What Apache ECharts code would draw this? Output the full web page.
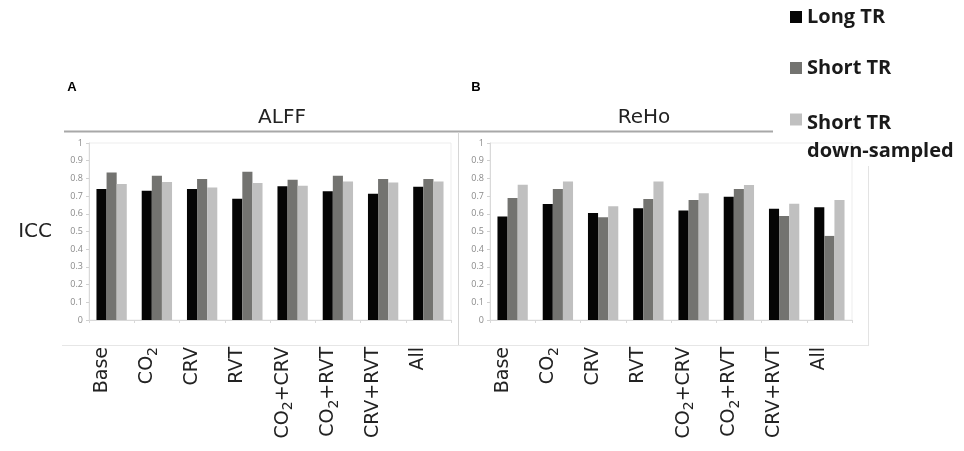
<!DOCTYPE html>
<html><head><meta charset="utf-8">
<script src="https://cdn.jsdelivr.net/npm/echarts@6/dist/echarts.min.js"></script>
<style>html,body{margin:0;padding:0;background:#fff}#c{width:964px;height:451px}</style>
</head><body><div id="c"></div>
<script>
const categories = ['Base', 'CO2', 'CRV', 'RVT', 'CO2+CRV', 'CO2+RVT', 'CRV+RVT', 'All'];
const seriesNames = ['Long TR', 'Short TR', 'Short TR down-sampled'];
const yTicks = [0, 0.1, 0.2, 0.3, 0.4, 0.5, 0.6, 0.7, 0.8, 0.9, 1];
// Panel A: ALFF
const alffLong  = [0.740, 0.730, 0.740, 0.685, 0.755, 0.728, 0.713, 0.753];
const alffShort = [0.834, 0.815, 0.796, 0.838, 0.792, 0.815, 0.796, 0.796];
const alffDown  = [0.768, 0.779, 0.749, 0.774, 0.758, 0.783, 0.777, 0.783];
// Panel B: ReHo
const rehoLong  = [0.585, 0.655, 0.604, 0.632, 0.619, 0.697, 0.629, 0.637];
const rehoShort = [0.689, 0.740, 0.581, 0.683, 0.678, 0.740, 0.588, 0.475];
const rehoDown  = [0.764, 0.783, 0.642, 0.783, 0.716, 0.763, 0.657, 0.678];

const FONT = 'DejaVu Sans';
const LFONT = 'Open Sans';
const colors = ['#050505', '#737370', '#c0c0c0'];
const chart = echarts.init(document.getElementById('c'));

function catLabel(v) { return v.replace(/CO2/g, 'CO{sub|2}'); }
const xAxisCommon = {
  type: 'category', data: categories,
  axisLine: { show: true, lineStyle: { color: '#d9d9d9' } },
  axisTick: { show: true, length: 3, lineStyle: { color: '#d9d9d9' } },
  axisLabel: {
    interval: 0, rotate: 90, margin: 27, fontFamily: FONT, fontSize: 19, color: '#222',
    lineHeight: 26, padding: [0, 0, 20, 0], formatter: catLabel,
    rich: { sub: { fontFamily: FONT, fontSize: 14, lineHeight: 12, verticalAlign: 'bottom', color: '#222' } }
  }
};
const yAxisCommon = {
  type: 'value', min: yTicks[0], max: yTicks[yTicks.length - 1], interval: 0.1,
  axisLine: { show: true, lineStyle: { color: '#d9d9d9' } },
  axisTick: { show: true, length: 3, lineStyle: { color: '#d0d0d0' } },
  splitLine: { show: false },
  axisLabel: { fontFamily: LFONT, fontSize: 9, color: '#8a8a8a', margin: 6 }
};
function bar(name, data, idx, color) {
  return { type: 'bar', name: name, data: data, xAxisIndex: idx, yAxisIndex: idx,
    barGap: '0%', barCategoryGap: '33%', itemStyle: { color: color }, silent: true };
}
const legendText = { fontFamily: LFONT, fontWeight: 'bold', fontSize: 20, color: '#1a1a1a', lineHeight: 28 };
const lineColor = '#d6d6d6';
chart.setOption({
  animation: false,
  grid: [
    { left: 89, top: 143, width: 362, height: 177, show: true, borderColor: '#ededed', borderWidth: 1 },
    { left: 490, top: 143, width: 362, height: 177, show: true, borderColor: '#ededed', borderWidth: 1 }
  ],
  xAxis: [ Object.assign({ gridIndex: 0 }, xAxisCommon), Object.assign({ gridIndex: 1 }, xAxisCommon) ],
  yAxis: [
    Object.assign({ gridIndex: 0, name: 'ICC', nameLocation: 'middle', nameRotate: 0, nameGap: 37,
      nameTextStyle: { fontFamily: FONT, fontSize: 20, color: '#222', align: 'right' } }, yAxisCommon),
    Object.assign({ gridIndex: 1 }, yAxisCommon)
  ],
  legend: [
    {
      orient: 'vertical', left: 790, top: 3, padding: 0, itemWidth: 12, itemHeight: 12, itemGap: 23, icon: 'rect',
      textStyle: legendText,
      data: [ { name: seriesNames[0] }, { name: seriesNames[1] } ]
    },
    {
      orient: 'vertical', left: 790, top: 73.5, padding: 0, itemWidth: 12, itemHeight: 12, icon: 'rect',
      textStyle: Object.assign({}, legendText, { padding: [36, 0, 0, 0], rich: { a: legendText } }),
      formatter: function () { return '{a|Short TR}\n{a|down-sampled}'; },
      data: [ { name: seriesNames[2] } ]
    }
  ],
  graphic: [
    { type: 'line', silent: true, shape: { x1: 64, y1: 131.5, x2: 773, y2: 131.5 }, style: { stroke: '#a8a8a8', lineWidth: 2 } },
    { type: 'line', silent: true, shape: { x1: 458.5, y1: 132, x2: 458.5, y2: 345 }, style: { stroke: lineColor, lineWidth: 1 } },
    { type: 'line', silent: true, shape: { x1: 868.5, y1: 166, x2: 868.5, y2: 346 }, style: { stroke: '#e3e3e3', lineWidth: 1 } },
    { type: 'line', silent: true, shape: { x1: 62, y1: 345.5, x2: 868, y2: 345.5 }, style: { stroke: '#e6e6e6', lineWidth: 1 } },
    { type: 'text', silent: true, x: 72, y: 87, style: { text: 'A', fontFamily: 'Liberation Sans', fontWeight: 'bold', fontSize: 13, fill: '#000', align: 'center', verticalAlign: 'middle' } },
    { type: 'text', silent: true, x: 476, y: 87, style: { text: 'B', fontFamily: 'Liberation Sans', fontWeight: 'bold', fontSize: 13, fill: '#000', align: 'center', verticalAlign: 'middle' } },
    { type: 'text', silent: true, x: 282, y: 118, style: { text: 'ALFF', fontFamily: FONT, fontSize: 20, fill: '#222', align: 'center', verticalAlign: 'middle' } },
    { type: 'text', silent: true, x: 644, y: 118, style: { text: 'ReHo', fontFamily: FONT, fontSize: 20, fill: '#222', align: 'center', verticalAlign: 'middle' } }
  ],
  series: [
    bar(seriesNames[0], alffLong, 0, colors[0]),
    bar(seriesNames[1], alffShort, 0, colors[1]),
    bar(seriesNames[2], alffDown, 0, colors[2]),
    bar(seriesNames[0], rehoLong, 1, colors[0]),
    bar(seriesNames[1], rehoShort, 1, colors[1]),
    bar(seriesNames[2], rehoDown, 1, colors[2])
  ]
});
</script></body></html>
